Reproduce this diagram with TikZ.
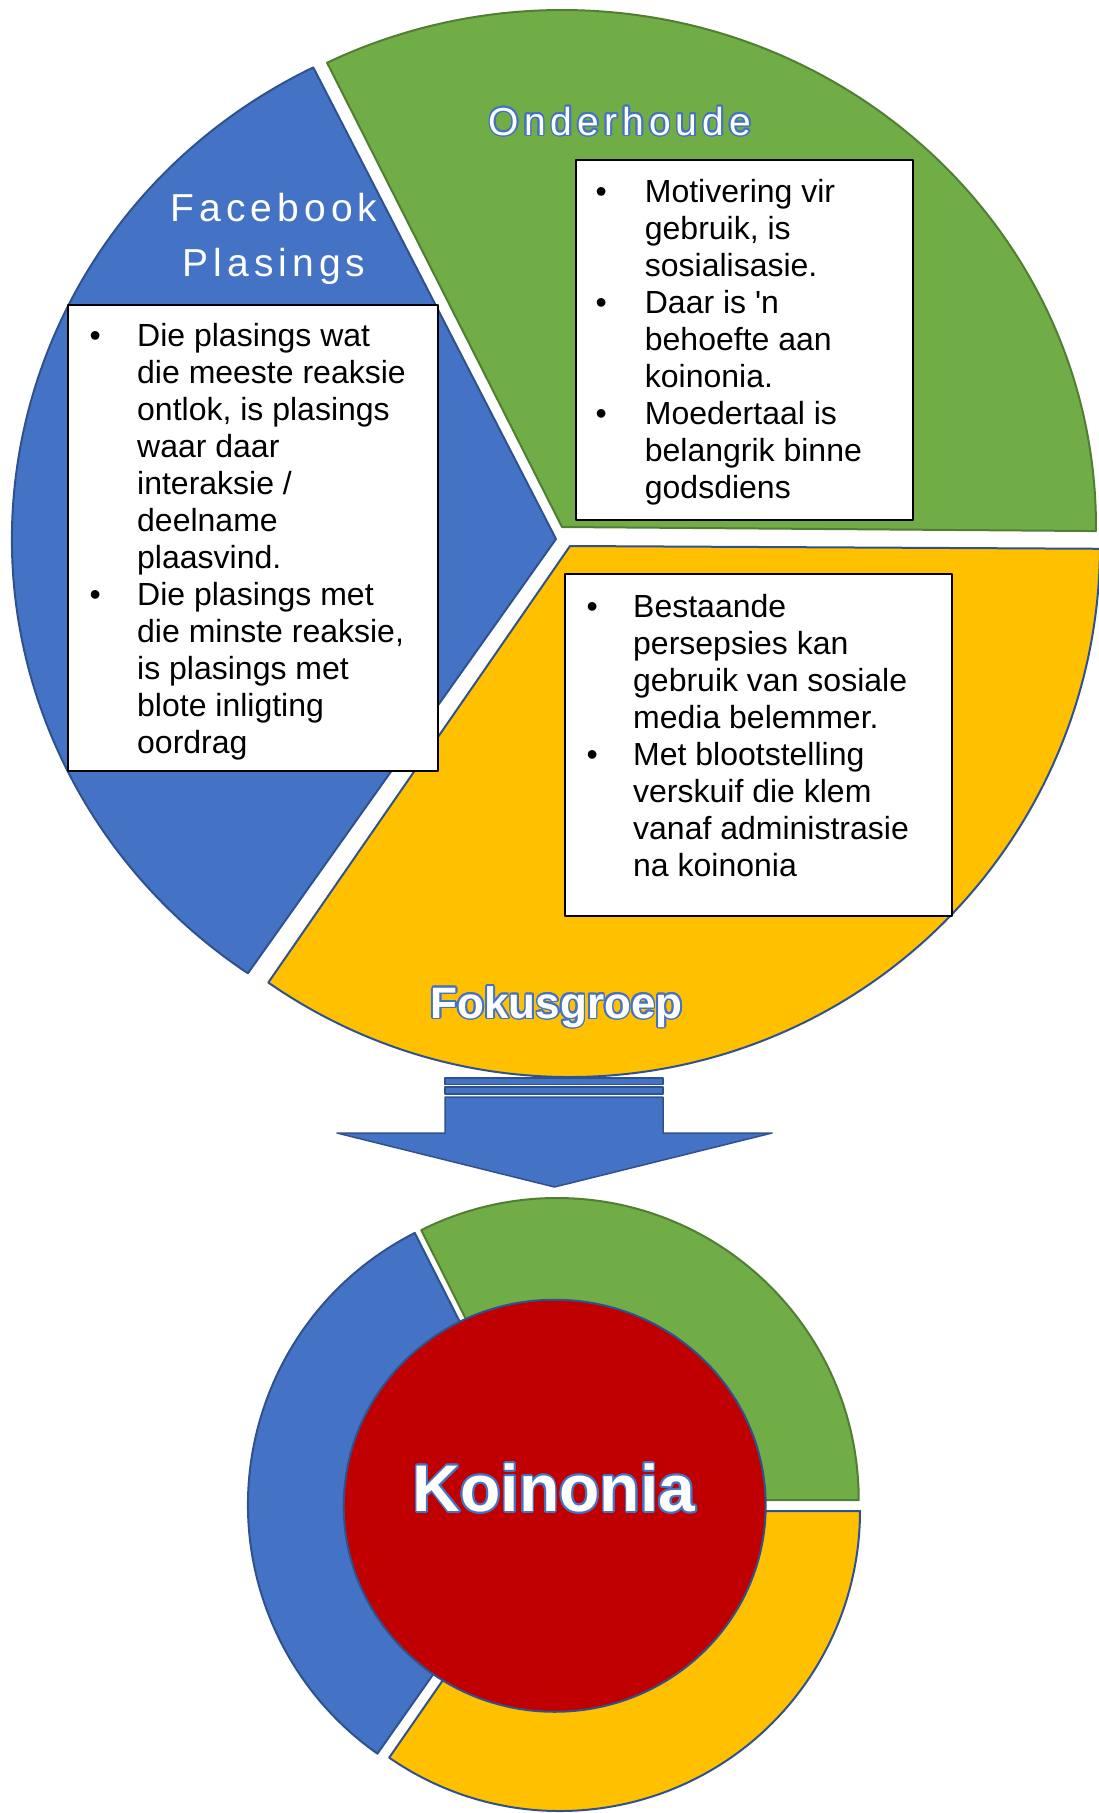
\documentclass[tikz,border=0pt]{standalone}
\usepackage{fontspec}
\setmainfont{Liberation Sans}[Ligatures=TeXOff]
\newfontfamily\spacedfont[LetterSpace=13]{Liberation Sans}
\usepackage[copies]{contour}
\contourlength{1.7pt}
\definecolor{pblue}{HTML}{4472C4}
\definecolor{pblueline}{HTML}{2F528F}
\definecolor{pgreen}{HTML}{70AD47}
\definecolor{pgreenline}{HTML}{507E32}
\definecolor{pyellow}{HTML}{FFC000}
\definecolor{pred}{HTML}{C00000}
\begin{document}
\begin{tikzpicture}[x=1pt,y=1pt,line join=round,
  slice/.style={line width=2pt},
  tbox/.style={draw=black,line width=2pt,fill=white,inner sep=0pt,anchor=north west},
  btext/.style={anchor=base west,inner sep=0pt,font=\fontsize{32}{37}\selectfont,text=black},
  sectitle/.style={anchor=base,inner sep=0pt,text=white,font=\spacedfont\fontsize{39}{54.3}\selectfont},
  boldtitle/.style={anchor=base,inner sep=0pt,text=white}]
\useasboundingbox (0,0) rectangle (1099,-1813);

% ---- top pie ----
\path[slice,fill=pblue,draw=pblueline] (556,-539) -- ++(116.5:544 and 527)
  arc[start angle=116.5,end angle=235.5,x radius=544,y radius=527] -- cycle;
\path[slice,fill=pgreen,draw=pgreenline] (562,-527) -- ++(-0.45:534 and 517)
  arc[start angle=-0.45,end angle=116.1,x radius=534,y radius=517] -- cycle;
\path[slice,fill=pyellow,draw=pblueline] (570,-546) -- ++(235.3:530 and 531)
  arc[start angle=235.3,end angle=359.7,x radius=530,y radius=531] -- cycle;

% ---- titles ----
\node[sectitle] (fbtitle) at (274,-221.7)
  {\begin{tabular}[t]{@{}c@{}}Facebook\\Plasings\end{tabular}};
\node[sectitle] (ontitle) at (620,-135) {\contour{pblue}{Onderhoude}};
\node[boldtitle,font=\bfseries\fontsize{44}{50}\selectfont] (fktitle) at (556.5,-1018)
  {\contour{pblue}{Fokusgroep}};

% ---- text boxes ----
\node[tbox,minimum width=370pt,minimum height=466pt] (fbbox) at (67,-304) {};
\node[btext] (fbtext) at (89.5,-346) {\begin{tabular}[t]{@{}p{47.5pt}@{}l@{}}
\textbullet & Die plasings wat\\
 & die meeste reaksie\\
 & ontlok, is plasings\\
 & waar daar\\
 & interaksie /\\
 & deelname\\
 & plaasvind.\\
\textbullet & Die plasings met\\
 & die minste reaksie,\\
 & is plasings met\\
 & blote inligting\\
 & oordrag
\end{tabular}};

\node[tbox,minimum width=337pt,minimum height=360pt] (onbox) at (575,-159) {};
\node[btext] (ontext) at (595.4,-202) {\begin{tabular}[t]{@{}p{49.3pt}@{}l@{}}
\textbullet & Motivering vir\\
 & gebruik, is\\
 & sosialisasie.\\
\textbullet & Daar is 'n\\
 & behoefte aan\\
 & koinonia.\\
\textbullet & Moedertaal is\\
 & belangrik binne\\
 & godsdiens
\end{tabular}};

\node[tbox,minimum width=387pt,minimum height=342pt] (fkbox) at (564,-573) {};
\node[btext] (fktext) at (586.4,-617) {\begin{tabular}[t]{@{}p{46.6pt}@{}l@{}}
\textbullet & Bestaande\\
 & persepsies kan\\
 & gebruik van sosiale\\
 & media belemmer.\\
\textbullet & Met blootstelling\\
 & verskuif die klem\\
 & vanaf administrasie\\
 & na koinonia
\end{tabular}};

% ---- striped arrow ----
\path[fill=pblue,draw=pblueline,line width=1.5pt] (445,-1078) rectangle (663,-1084.5);
\path[fill=pblue,draw=pblueline,line width=1.5pt] (445,-1087) rectangle (663,-1094);
\path[fill=pblue,draw=pblueline,line width=1.5pt] (445,-1097) -- (663,-1097) -- (663,-1133)
  -- (772,-1133) -- (554.5,-1187) -- (337,-1133) -- (445,-1133) -- cycle;

% ---- bottom ring ----
\path[slice,fill=pblue,draw=pblueline] (552.5,-1504.5) -- ++(116.9:304.5)
  arc[start angle=116.9,end angle=234.9,radius=304.5] -- cycle;
\path[slice,fill=pgreen,draw=pgreenline] (556.7,-1500) -- ++(0:302)
  arc[start angle=0,end angle=116.65,radius=302] -- cycle;
\path[slice,fill=pyellow,draw=pblueline] (560,-1511) -- ++(235.3:300)
  arc[start angle=235.3,end angle=360,radius=300] -- cycle;
\path[fill=pred,draw=pblueline,line width=2pt] (554.7,-1505.75) ellipse[x radius=211,y radius=206];
\node[boldtitle,font=\bfseries\fontsize{66}{78}\selectfont] (koinonia) at (554,-1511.5)
  {\contour{pblue}{Koinonia}};
\end{tikzpicture}
\end{document}
